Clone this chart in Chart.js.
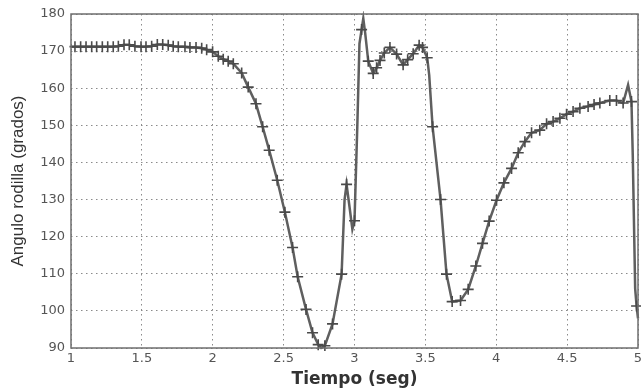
<!DOCTYPE html>
<html>
<head>
<meta charset="utf-8">
<title>Angulo rodilla</title>
<script src="https://cdn.jsdelivr.net/npm/chart.js@4"></script>
<style>
    html, body { margin: 0; padding: 0; background: #fff; }
    #wrap { width: 641px; height: 390px; position: relative; }
</style>
</head>
<body>
<div id="wrap"><canvas id="kneeChart"></canvas></div>
<script>
// ==================== DATA ====================
const timeS = [
    1.000, 1.028, 1.068, 1.106, 1.146, 1.181, 1.221, 1.259, 1.298, 1.334,
    1.374, 1.411, 1.451, 1.494, 1.529, 1.569, 1.609, 1.647, 1.686, 1.721,
    1.757, 1.804, 1.839, 1.882, 1.922, 1.957, 1.999, 2.039, 2.074, 2.109,
    2.145, 2.204, 2.250, 2.305, 2.352, 2.398, 2.455, 2.509, 2.563, 2.599,
    2.658, 2.704, 2.744, 2.765, 2.791, 2.845, 2.909, 2.930, 2.944, 2.965,
    2.985, 3.000, 3.020, 3.035, 3.050, 3.062, 3.075, 3.097, 3.132, 3.156,
    3.180, 3.210, 3.250, 3.297, 3.343, 3.375, 3.414, 3.456, 3.480, 3.513,
    3.527, 3.551, 3.607, 3.649, 3.689, 3.748, 3.802, 3.856, 3.903, 3.950,
    4.002, 4.054, 4.108, 4.155, 4.202, 4.249, 4.307, 4.355, 4.401, 4.449,
    4.496, 4.542, 4.590, 4.648, 4.690, 4.731, 4.801, 4.848, 4.895, 4.930,
    4.954, 4.963, 4.980, 4.990, 5.000
];
const angleDeg = [
    171.2, 171.2, 171.2, 171.2, 171.2, 171.2, 171.2, 171.2, 171.2, 171.3,
    171.7, 171.7, 171.3, 171.2, 171.2, 171.3, 171.8, 171.8, 171.6, 171.3,
    171.2, 171.2, 171.0, 171.0, 170.8, 170.4, 169.8, 168.6, 167.8, 167.3,
    166.6, 164.1, 160.3, 155.8, 149.6, 143.3, 135.2, 126.6, 117.1, 109.2,
    100.4, 94.1, 90.9, 90.0, 90.6, 96.5, 109.9, 130.0, 134.1, 128.0,
    122.0, 124.3, 150.0, 172.0, 175.8, 178.8, 175.0, 167.3, 164.0, 165.5,
    167.5, 169.5, 171.0, 169.2, 166.3, 167.7, 169.3, 171.6, 171.0, 168.2,
    163.5, 149.6, 130.0, 109.9, 102.5, 102.8, 105.8, 112.1, 118.2, 124.2,
    129.8, 134.5, 138.4, 142.6, 145.6, 148.0, 148.7, 150.4, 151.0, 151.9,
    153.0, 153.7, 154.6, 155.1, 155.6, 156.0, 156.7, 156.7, 156.0, 160.9,
    156.4, 142.0, 106.0, 101.3, 98.0
];
// samples drawn without a "+" marker (line only)
const noMarker = [0, 43, 47, 49, 50, 52, 53, 55, 56, 70, 99, 101, 102, 104];

const xTicks = { min: 1, max: 5, step: 0.5 };
const yTicks = { min: 90, max: 180, step: 10 };

document.addEventListener('DOMContentLoaded', function() {
    const ctx = document.getElementById('kneeChart');

    // box around the plot area (MATLAB style)
    const frame = {
        id: 'frame',
        afterDraw(chart) {
            const a = chart.chartArea;
            const c = chart.ctx;
            c.save();
            c.strokeStyle = '#6e6e6e';
            c.lineWidth = 1.5;
            c.strokeRect(a.left, a.top, a.right - a.left, a.bottom - a.top);
            c.restore();
        }
    };

    const points = timeS.map((t, i) => ({ x: t, y: angleDeg[i] }));

    new Chart(ctx, {
        type: 'line',
        data: {
            datasets: [{
                data: points,
                borderColor: '#5f5f5f',
                borderWidth: 2.5,
                tension: 0,
                pointStyle: 'cross',
                pointRadius: function(c) { return noMarker.includes(c.dataIndex) ? 0 : 5.5; },
                pointBorderColor: '#4a4a4a',
                pointBorderWidth: 1.6,
                pointHoverRadius: 0,
                fill: false,
                clip: 3
            }]
        },
        options: {
            responsive: true,
            maintainAspectRatio: false,
            animation: false,
            layout: { padding: { top: 14, right: 3, left: 8, bottom: 0 } },
            plugins: { legend: { display: false }, tooltip: { enabled: false } },
            scales: {
                x: {
                    type: 'linear',
                    min: xTicks.min,
                    max: xTicks.max,
                    ticks: {
                        stepSize: xTicks.step,
                        color: '#555',
                        font: { family: 'DejaVu Sans', size: 13 },
                        padding: 3,
                        maxRotation: 0,
                        callback: function(v) { return String(v); }
                    },
                    grid: { color: '#8a8a8a', lineWidth: 1, drawTicks: false },
                    border: { display: false, dash: [1.5, 3.5] },
                    title: {
                        display: true,
                        text: 'Tiempo (seg)',
                        color: '#333',
                        font: { family: 'DejaVu Sans', size: 17, weight: 'bold' },
                        padding: { top: 0, bottom: 0 }
                    },
                    // let the "5" run past the right edge like the original
                    afterFit: function(scale) { scale.paddingRight = 0; }
                },
                y: {
                    min: yTicks.min,
                    max: yTicks.max,
                    ticks: {
                        stepSize: yTicks.step,
                        color: '#555',
                        font: { family: 'DejaVu Sans', size: 13 },
                        padding: 6
                    },
                    grid: { color: '#8a8a8a', lineWidth: 1, drawTicks: false },
                    border: { display: false, dash: [1.5, 3.5] },
                    title: {
                        display: true,
                        text: 'Angulo rodilla (grados)',
                        color: '#333',
                        font: { family: 'Liberation Sans, Arial', size: 17 },
                        padding: { top: 0, bottom: 2 }
                    },
                    afterFit: function(scale) { scale.width = 63; }
                }
            }
        },
        plugins: [frame]
    });
});
</script>
</body>
</html>
